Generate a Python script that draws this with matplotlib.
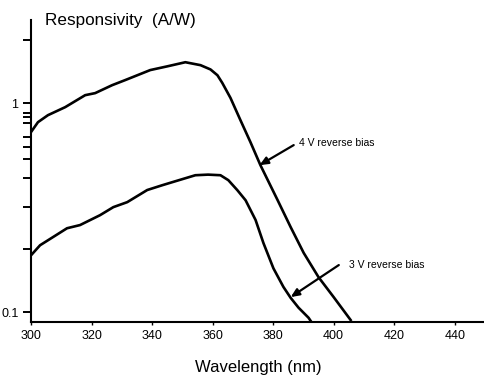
import numpy as np
import matplotlib
matplotlib.use("Agg")
import matplotlib.pyplot as plt
from matplotlib import font_manager

wl_4v = [300, 302.3, 305.6, 311.3, 317.9, 321.2, 326.8, 331.1, 339.4, 345, 351,
         356, 359.3, 361.6, 363.2, 365.9, 369.2, 372.5, 375.8, 381.5, 385.8,
         390.1, 395.0, 400.0, 405.6]
resp_4v = [0.727, 0.811, 0.876, 0.957, 1.092, 1.117, 1.219, 1.289, 1.44, 1.50, 1.57,
           1.52, 1.45, 1.36, 1.25, 1.06, 0.829, 0.651, 0.505, 0.343, 0.255,
           0.192, 0.147, 0.118, 0.0917]

wl_3v = [300, 303, 306.3, 311.9, 316.2, 322.8, 327.2, 331.8, 338.4, 343.4,
         347.7, 354.3, 358.5, 362.6, 365.2, 368.2, 370.9, 374.2, 376.8, 380.1,
         383.4, 385.8, 388.4, 391.7, 392.8]
resp_3v = [0.187, 0.209, 0.224, 0.252, 0.261, 0.291, 0.318, 0.336, 0.384, 0.405,
           0.423, 0.452, 0.455, 0.452, 0.428, 0.383, 0.343, 0.276, 0.214, 0.162,
           0.132, 0.117, 0.105, 0.094, 0.089]

x_ticks = [300, 320, 340, 360, 380, 400, 420, 440]
y_ticks = [0.1, 1, 2]
y_tick_labels = ["0.1", "1", ""]
y_minor = [0.9, 0.86, 0.8, 0.69, 0.62, 0.54, 0.44, 0.32, 0.2]

names = {f.name for f in font_manager.fontManager.ttflist}
main_font = "Liberation Sans" if "Liberation Sans" in names else "DejaVu Sans"
if "Liberation Sans Narrow" in names:
    note_font, note_size = "Liberation Sans Narrow", 9
else:
    note_font, note_size = main_font, 7.5
plt.rcParams["font.family"] = [main_font, "DejaVu Sans"]

fig = plt.figure(figsize=(4.85, 3.79), dpi=100)
ax = fig.add_axes([31 / 485, 1 - 322 / 379, 454 / 485, 302 / 379])

ax.plot(wl_4v, resp_4v, color="black", lw=1.9, solid_joinstyle="round")
ax.plot(wl_3v, resp_3v, color="black", lw=1.9, solid_joinstyle="round")

ax.set_yscale("log")
ax.set_xlim(300, 450)
ax.set_ylim(0.0897, 2.5)

ax.set_xticks(x_ticks)
ax.set_xticklabels([str(t) for t in x_ticks], fontsize=9)
ax.set_yticks(y_ticks)
ax.set_yticklabels(y_tick_labels, fontsize=9)
ax.set_yticks(y_minor, minor=True)
ax.set_yticklabels([], minor=True)
ax.tick_params(axis="y", which="both", direction="out", length=6, width=1.4, pad=3)
ax.tick_params(axis="x", which="major", direction="out", length=2, width=1, pad=4)
ax.tick_params(axis="x", which="minor", bottom=False)

for side in ["top", "right"]:
    ax.spines[side].set_visible(False)
for side in ["left", "bottom"]:
    ax.spines[side].set_linewidth(1.5)

ax.set_xlabel("Wavelength (nm)", fontsize=12, labelpad=13)
fig.text(45 / 485, 1 - 25 / 379, "Responsivity  (A/W)", fontsize=12.3,
         ha="left", va="baseline")

arrow = dict(arrowstyle="-|>,head_length=0.5,head_width=0.22", color="black",
             lw=1.6, shrinkA=0, shrinkB=0)
ax.annotate("", xy=(375.5, 0.505), xytext=(386.8, 0.63), arrowprops=arrow)
ax.text(388.4, 0.644, "4 V reverse bias", fontsize=note_size, family=note_font,
        ha="left", va="center")
ax.annotate("", xy=(385.8, 0.118), xytext=(401.7, 0.168), arrowprops=arrow)
ax.text(405, 0.168, "3 V reverse bias", fontsize=note_size, family=note_font,
        ha="left", va="center")

fig.savefig("out.png", dpi=100)
